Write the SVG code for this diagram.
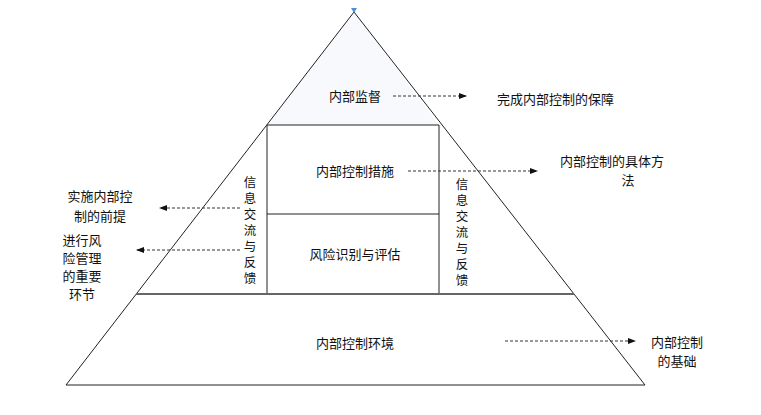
<svg xmlns="http://www.w3.org/2000/svg" width="761" height="415" viewBox="0 0 761 415">
<style>
text{font-family:"Noto Sans CJK SC","Noto Sans CJK JP",sans-serif;font-size:13px;fill:#111}
.c{text-anchor:middle}
.v{font-size:12.5px;writing-mode:vertical-rl;text-orientation:upright;letter-spacing:3.5px}
.l{stroke:#222;stroke-width:1;fill:none}
.d{stroke:#333;stroke-width:1;stroke-dasharray:3,2;fill:none;marker-end:url(#a)}
</style>
<defs><marker id="a" markerWidth="8" markerHeight="6" refX="7" refY="3" orient="auto"><path d="M0,0L8,3L0,6z" fill="#111"/></marker></defs>
<rect width="761" height="415" fill="#fff"/>
<g id="pyramid">
<path d="M354,12L267,125H439Z" fill="#f8f9fc"/>
<path class="l" d="M354,12L66,385H645Z"/>
<path d="M351,8h6l-3,5z" fill="#4a8fd8"/>
<path class="l" d="M267,125H439V294M267,125V294M267,214H439"/>
<path d="M136,294H574" stroke="#666" stroke-width="2"/>
</g>
<g id="nodes">
<g id="n1"><text class="c" x="355" y="101">内部监督</text></g>
<g id="n2"><text class="c" x="355" y="176">内部控制措施</text></g>
<g id="n3"><text class="c" x="355" y="259">风险识别与评估</text></g>
<g id="n4"><text class="c" x="355" y="348">内部控制环境</text></g>
<g id="n5"><text class="v" x="250" y="176">信息交流与反馈</text></g>
<g id="n6"><text class="v" x="462" y="178">信息交流与反馈</text></g>
<g id="t1"><text x="497" y="104">完成内部控制的保障</text></g>
<g id="t2"><text x="560" y="166">内部控制的具体方</text><text class="c" x="628" y="185">法</text></g>
<g id="t3"><text class="c"><tspan x="100" y="201">实施内部控</tspan><tspan x="100" y="221">制的前提</tspan></text></g>
<g id="t4"><text class="c"><tspan x="82" y="245">进行风</tspan><tspan x="82" y="263">险管理</tspan><tspan x="82" y="281">的重要</tspan><tspan x="82" y="299">环节</tspan></text></g>
<g id="t5"><text class="c"><tspan x="677" y="347">内部控制</tspan><tspan x="677" y="366">的基础</tspan></text></g>
</g>
<g id="connectors">
<path class="d" d="M393,96H466"/>
<path class="d" d="M408,171H537"/>
<path class="d" d="M240,208H160"/>
<path class="d" d="M240,250H137"/>
<path class="d" d="M505,341H635"/>
</g>
</svg>
